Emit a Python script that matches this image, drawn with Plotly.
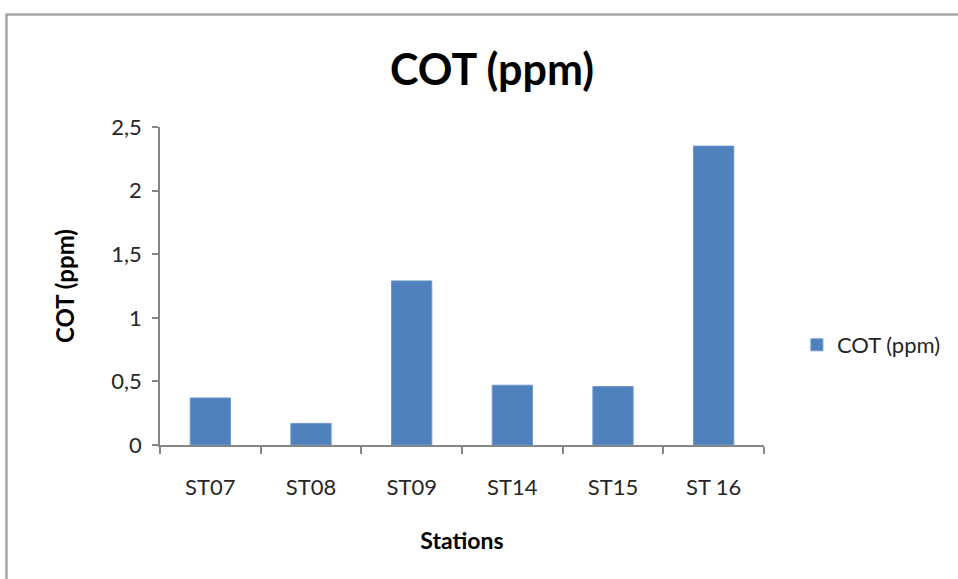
import plotly.graph_objects as go

stations = ["ST07", "ST08", "ST09", "ST14", "ST15", "ST 16"]
cot_values = [0.37, 0.17, 1.29, 0.47, 0.46, 2.35]
y_tick_vals = [0, 0.5, 1, 1.5, 2, 2.5]
y_tick_text = ["0", "0,5", "1", "1,5", "2", "2,5"]

# page body margin is removed by post_script, so the figure sits at (0, 0)
OFF = 0
W, H = 958 - OFF, 579 - OFF
L = 160 - OFF
T = 127 - OFF
R = W - (766 - OFF)
B = H - (445 - OFF)
pw, ph = W - L - R, H - T - B

def px_x(x):
    return (x - OFF - L) / pw

def px_y(y):
    return (H - B - (y - OFF)) / ph

FONT = "Lato"
AXIS_COLOR = "#868686"

fig = go.Figure()
fig.add_trace(go.Bar(
    x=stations, y=cot_values, name="COT (ppm)",
    marker=dict(color="#4F81BD", line=dict(color="#6E97CC", width=1)),
))

fig.update_layout(
    width=W, height=H,
    margin=dict(l=L, r=R, t=T, b=B),
    paper_bgcolor="white", plot_bgcolor="white",
    bargap=0.6,
    font=dict(family=FONT, size=22, color="#262626"),
    title=dict(text="<b>COT (ppm)</b>", x=(492 - OFF) / W, xref="container", xanchor="center",
               y=1 - (70 - OFF) / H, yref="container", yanchor="middle",
               font=dict(family=FONT, size=43, color="black")),
    showlegend=True,
    legend=dict(x=px_x(799), xanchor="left", y=px_y(345), yanchor="middle",
                font=dict(family=FONT, size=22, color="#262626"),
                bgcolor="rgba(0,0,0,0)"),
    xaxis=dict(
        title=dict(text="<b>Stations</b>", font=dict(family=FONT, size=23, color="black"), standoff=34),
        showline=True, linecolor=AXIS_COLOR, linewidth=1.5,
        ticks="outside", tickson="boundaries", ticklen=7, tickcolor=AXIS_COLOR, tickwidth=1.5,
        tickfont=dict(family=FONT, size=22, color="#262626"),
        ticklabelstandoff=22,
        showgrid=False,
    ),
    yaxis=dict(
        title=dict(text="<b>COT (ppm)</b>", font=dict(family=FONT, size=24, color="black"), standoff=30),
        range=[0, 2.5], tickvals=y_tick_vals, ticktext=y_tick_text,
        showline=True, linecolor=AXIS_COLOR, linewidth=1.5,
        ticks="outside", ticklen=6, tickcolor=AXIS_COLOR, tickwidth=1.5,
        tickfont=dict(family=FONT, size=22, color="#262626"),
        ticklabelstandoff=6,
        showgrid=False, zeroline=False,
    ),
    shapes=[
        dict(type="line", xref="paper", yref="paper",
             x0=px_x(6), x1=px_x(6), y0=px_y(14), y1=px_y(620),
             line=dict(color="#A6A6A6", width=2.5)),
        dict(type="line", xref="paper", yref="paper",
             x0=px_x(5), x1=px_x(1000), y0=px_y(14.5), y1=px_y(14.5),
             line=dict(color="#A6A6A6", width=2.5)),
    ],
)

fig.write_html(
    "out.html",
    config={"displayModeBar": False},
    post_script="document.body.style.margin='0'; document.body.style.overflow='hidden';",
)
